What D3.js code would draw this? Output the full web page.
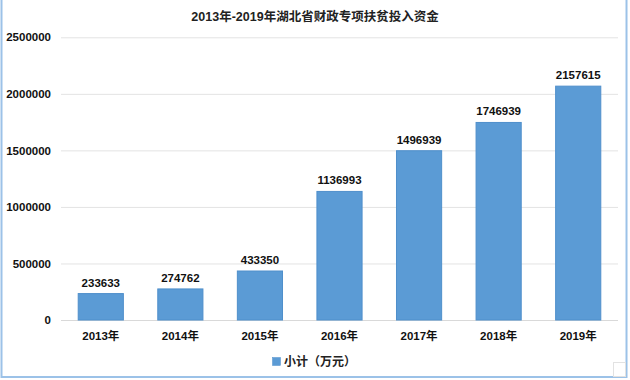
<!DOCTYPE html>
<html>
<head>
<meta charset="utf-8">
<script src="https://cdn.jsdelivr.net/npm/d3@7"></script>
<style>
  body { margin: 0; background: #fff; }
  text { font-family: "Liberation Sans", "Noto Sans CJK SC", sans-serif; }
</style>
</head>
<body>
<svg id="chart" width="630" height="380"></svg>
<script>
// years on the x axis
const years = ['2013年', '2014年', '2015年', '2016年', '2017年', '2018年', '2019年'];
// bar heights as drawn (the 2019 bar sits lower than its label)
const barValues = [233633, 274762, 433350, 1136993, 1496939, 1746939, 2068000];
// numbers printed above the bars
const barLabels = ['233633', '274762', '433350', '1136993', '1496939', '1746939', '2157615'];
const yTicks = [0, 500000, 1000000, 1500000, 2000000, 2500000];
const seriesName = '小计（万元）';
const title = '2013年-2019年湖北省财政专项扶贫投入资金';

const svg = d3.select('#chart');
const plotLeft = 61, plotRight = 618, plotTop = 37.3, plotBottom = 320;

const x = d3.scaleBand().domain(years).range([plotLeft, plotRight]).paddingInner(0.42).paddingOuter(0.21);
const y = d3.scaleLinear().domain([0, 2500000]).range([plotBottom, plotTop]);

// frame
svg.append('rect')
  .attr('x', 1.5).attr('y', -2).attr('width', 625).attr('height', 379)
  .attr('fill', 'none').attr('stroke', '#9cc2e8').attr('stroke-width', 2);
// little corner square
svg.append('rect')
  .attr('x', 613.5).attr('y', 362.5).attr('width', 12).attr('height', 14)
  .attr('fill', 'none').attr('stroke', '#e2e2e2').attr('stroke-width', 1);

// title
svg.append('text')
  .attr('x', 315).attr('y', 21)
  .attr('text-anchor', 'middle')
  .attr('font-size', 12.5).attr('font-weight', 'bold').attr('fill', '#222')
  .text(title);

// grid
svg.append('g').selectAll('line').data(yTicks).join('line')
  .attr('x1', plotLeft).attr('x2', plotRight)
  .attr('y1', d => y(d) + 0.5).attr('y2', d => y(d) + 0.5)
  .attr('stroke', d => d === 0 ? '#d9d9d9' : '#e3e3e3').attr('stroke-width', 1);

// y axis labels
const yAxis = d3.axisLeft(y).tickValues(yTicks).tickSize(0).tickPadding(10).tickFormat(d3.format('d'));
svg.append('g').attr('transform', `translate(${plotLeft},0)`).call(yAxis)
  .call(g => g.select('.domain').remove())
  .call(g => g.selectAll('text')
    .attr('font-size', 11.5).attr('font-weight', 'bold').attr('fill', '#111')
    .attr('font-family', '"Liberation Sans", sans-serif'));

// x axis labels
const xAxis = d3.axisBottom(x).tickSize(0).tickPadding(12);
svg.append('g').attr('transform', `translate(0,${plotBottom})`).call(xAxis)
  .call(g => g.select('.domain').remove())
  .call(g => g.selectAll('text')
    .attr('font-size', 11.5).attr('font-weight', 'bold').attr('fill', '#111')
    .attr('font-family', '"Liberation Sans", "Noto Sans CJK SC", sans-serif'));

// bars
svg.append('g').selectAll('rect').data(years).join('rect')
  .attr('x', d => x(d) + 0.5)
  .attr('y', (d, i) => y(barValues[i]))
  .attr('width', x.bandwidth() - 1)
  .attr('height', (d, i) => y(0) - y(barValues[i]))
  .attr('fill', '#5b9bd5').attr('stroke', '#4f8fcb').attr('stroke-width', 1);

// value labels
svg.append('g').selectAll('text').data(years).join('text')
  .attr('x', d => x(d) + x.bandwidth() / 2)
  .attr('y', (d, i) => y(barValues[i]) - 7)
  .attr('text-anchor', 'middle')
  .attr('font-size', 11.5).attr('font-weight', 'bold').attr('fill', '#111')
  .text((d, i) => barLabels[i]);

// legend
svg.append('rect')
  .attr('x', 272.5).attr('y', 357.5).attr('width', 8).attr('height', 8)
  .attr('fill', '#5b9bd5').attr('stroke', '#4f8fcb').attr('stroke-width', 0.5);
svg.append('text')
  .attr('x', 284).attr('y', 366)
  .attr('font-size', 12).attr('font-weight', 'bold').attr('fill', '#222')
  .attr('font-family', '"Noto Sans CJK SC", sans-serif')
  .text(seriesName);
</script>
</body>
</html>
